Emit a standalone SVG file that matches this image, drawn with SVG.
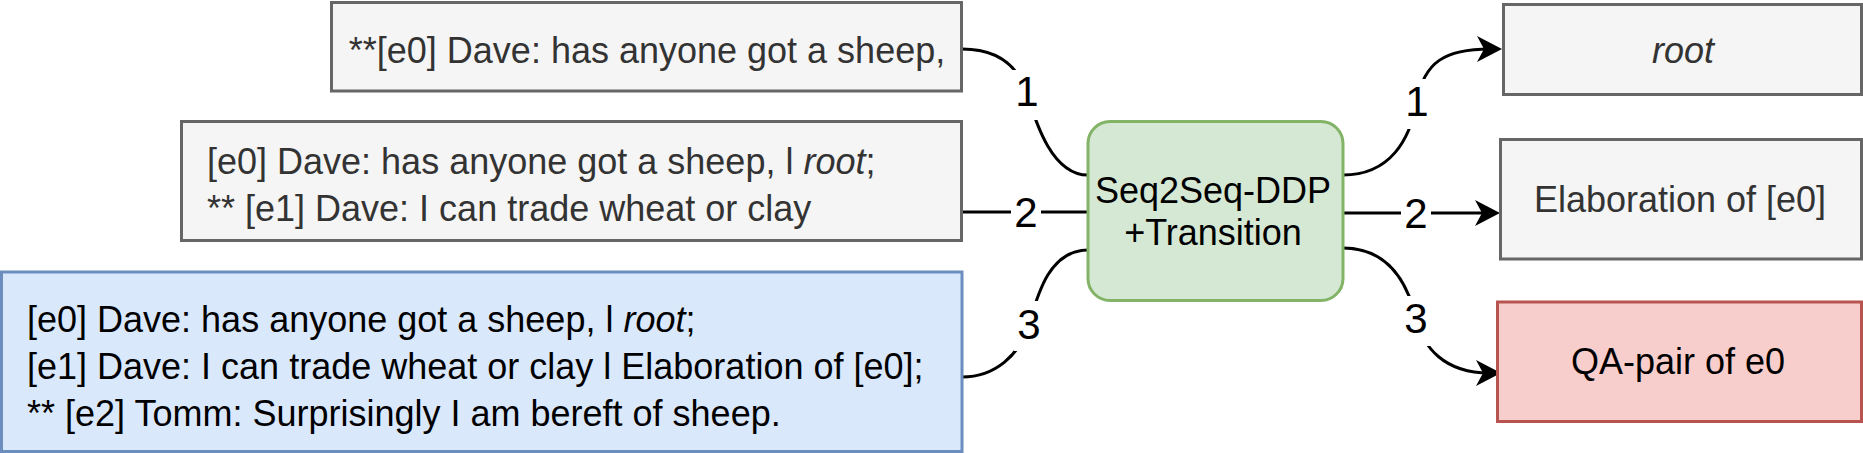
<svg xmlns="http://www.w3.org/2000/svg" width="1863" height="453" viewBox="0 0 1863 453">
<style>
  .gray{fill:#f5f5f5;stroke:#666666;stroke-width:3}
  .blue{fill:#dae8fc;stroke:#6c8ebf;stroke-width:3}
  .green{fill:#d5e8d4;stroke:#82b366;stroke-width:3}
  .red{fill:#f8cecc;stroke:#b85450;stroke-width:3}
  text{font-family:"Liberation Sans",Arial,Helvetica,sans-serif;font-size:36px}
  .dark{fill:#333333}
  .black{fill:#000000}
  .mid{text-anchor:middle}
  .edge{fill:none;stroke:#000000;stroke-width:3}
  .lblbg{fill:#ffffff;stroke:none}
  .lbl{font-size:42px;text-anchor:middle;fill:#000000}
</style>
<defs>
  <marker id="arrow" markerUnits="userSpaceOnUse" viewBox="-27 -15 30 30" markerWidth="30" markerHeight="30" refX="-12" refY="0" orient="auto">
    <path d="M0,0 L-25,-13 L-18,0 L-25,13 Z" fill="#000000"/>
  </marker>
</defs>

<g id="connectors">
  <g id="edge-in-1">
    <path class="edge" d="M962,49 C1000,49 1018,68 1026,91 C1034,116 1050,175 1088,175"/>
    <rect class="lblbg" x="1012" y="70" width="30" height="50"/>
    <text class="lbl" x="1027" y="106">1</text>
  </g>
  <g id="edge-in-2">
    <path class="edge" d="M962,212 L1088,212"/>
    <rect class="lblbg" x="1011" y="191" width="30" height="50"/>
    <text class="lbl" x="1026" y="227">2</text>
  </g>
  <g id="edge-in-3">
    <path class="edge" d="M962,377 C995,377 1020,355 1029,324 C1038,293 1050,250 1088,250"/>
    <rect class="lblbg" x="1014" y="301" width="30" height="50"/>
    <text class="lbl" x="1029" y="339">3</text>
  </g>
  <g id="edge-out-1">
    <path class="edge" d="M1343,175 C1390,175 1410,140 1417,101 C1424,62 1445,49 1490,49" marker-end="url(#arrow)"/>
    <rect class="lblbg" x="1402" y="79" width="30" height="50"/>
    <text class="lbl" x="1417" y="116">1</text>
  </g>
  <g id="edge-out-2">
    <path class="edge" d="M1343,213 L1488,213" marker-end="url(#arrow)"/>
    <rect class="lblbg" x="1401" y="192" width="30" height="50"/>
    <text class="lbl" x="1416" y="228">2</text>
  </g>
  <g id="edge-out-3">
    <path class="edge" d="M1343,248 C1390,248 1408,285 1416,318 C1423,348 1445,373 1489,373" marker-end="url(#arrow)"/>
    <rect class="lblbg" x="1401" y="296" width="30" height="50"/>
    <text class="lbl" x="1416" y="333">3</text>
  </g>
</g>

<g id="input-1">
  <rect class="gray" x="331.5" y="2.5" width="630" height="88.5"/>
  <text class="dark mid" x="647" y="63">**[e0] Dave: has anyone got a sheep,</text>
</g>

<g id="input-2">
  <rect class="gray" x="181.5" y="121.5" width="780" height="119"/>
  <text class="dark" x="207" y="174">[e0] Dave: has anyone got a sheep, l <tspan font-style="italic">root</tspan>;</text>
  <text class="dark" x="207" y="221">** [e1] Dave: I can trade wheat or clay</text>
</g>

<g id="input-3">
  <rect class="blue" x="1.5" y="272" width="960.5" height="179.5"/>
  <text class="black" x="27" y="332">[e0] Dave: has anyone got a sheep, l <tspan font-style="italic">root</tspan>;</text>
  <text class="black" x="27" y="379">[e1] Dave: I can trade wheat or clay l Elaboration of [e0];</text>
  <text class="black" x="27" y="426">** [e2] Tomm: Surprisingly I am bereft of sheep.</text>
</g>

<g id="model">
  <rect class="green" x="1088" y="121.5" width="255" height="179" rx="22" ry="22"/>
  <text class="black mid" x="1213" y="203">Seq2Seq-DDP</text>
  <text class="black mid" x="1213" y="245">+Transition</text>
</g>

<g id="output-root">
  <rect class="gray" x="1503.5" y="4.5" width="358" height="90"/>
  <text class="dark mid" x="1683" y="63" font-style="italic">root</text>
</g>

<g id="output-elaboration">
  <rect class="gray" x="1500.5" y="139.5" width="361" height="119.5"/>
  <text class="dark mid" x="1680" y="212">Elaboration of [e0]</text>
</g>

<g id="output-qa">
  <rect class="red" x="1497.5" y="302" width="364" height="119.5"/>
  <text class="black mid" x="1678" y="374">QA-pair of e0</text>
</g>
</svg>
